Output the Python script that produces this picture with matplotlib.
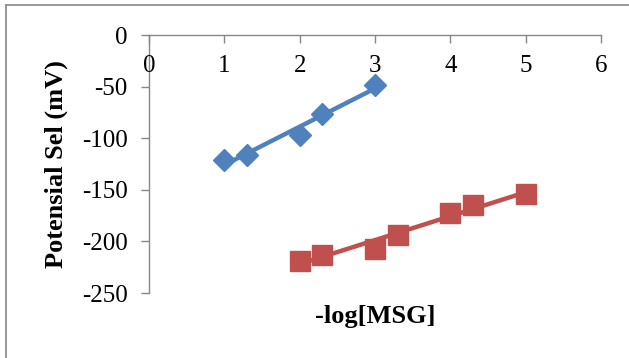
import numpy as np
import matplotlib
import matplotlib.pyplot as plt
from matplotlib.lines import Line2D

matplotlib.use('Agg')
plt.rcParams['font.family'] = 'Liberation Serif'
plt.rcParams['axes.unicode_minus'] = False

# data
blue_x = [1, 1.3, 2, 2.3, 3]
blue_y = [-121, -116, -97, -77, -48]
red_x = [2, 2.3, 3, 3.3, 4, 4.3, 5]
red_y = [-219, -213, -207, -194, -172, -165, -154]

BLUE = '#4F81BD'
RED = '#C0504D'
GRAY = '#868686'

fig = plt.figure(figsize=(6.29, 3.58), dpi=100)
ax = fig.add_axes([149 / 629, 1 - 293 / 358, 452 / 629, 258 / 358])

for xs, ys, col, mk, ms in [(blue_x, blue_y, BLUE, 'D', 11.5),
                            (red_x, red_y, RED, 's', 15)]:
    xs = np.array(xs)
    ys = np.array(ys)
    k, b = np.polyfit(xs, ys, 1)
    ax.plot([xs.min(), xs.max()], [k * xs.min() + b, k * xs.max() + b],
            color=col, lw=3.2, solid_capstyle='butt', zorder=2)
    ax.plot(xs, ys, linestyle='none', marker=mk, ms=ms, color=col,
            markeredgecolor=col, zorder=3)

ax.set_xlim(0, 6)
ax.set_ylim(-250, 0)
ax.set_xticks(range(0, 7))
ax.set_yticks(range(-250, 1, 50))

ax.spines['right'].set_visible(False)
ax.spines['top'].set_visible(False)
ax.spines['bottom'].set_position(('data', 0))
for s in ('left', 'bottom'):
    ax.spines[s].set_color(GRAY)
    ax.spines[s].set_linewidth(1)
    ax.spines[s].set_zorder(1)
ax.tick_params(axis='both', direction='out', length=5.5, width=1, color=GRAY,
               labelsize=18)
ax.tick_params(axis='x', pad=9)
ax.tick_params(axis='y', pad=10)

ax.set_ylabel('Potensial Sel (mV)', fontsize=19, fontweight='bold', labelpad=10)
fig.text(375 / 629, 1 - 316 / 358, '-log[MSG]', fontsize=19, fontweight='bold',
         ha='center', va='center')

# chart frame: only left and top edges are visible in the crop
top = 1 - 4.5 / 358
left = 6 / 629
fig.add_artist(Line2D([left, left], [0, top], transform=fig.transFigure,
                      color=GRAY, lw=1.2))
fig.add_artist(Line2D([left, 1], [top, top], transform=fig.transFigure,
                      color=GRAY, lw=1.2))

fig.savefig('out.png', dpi=100)
